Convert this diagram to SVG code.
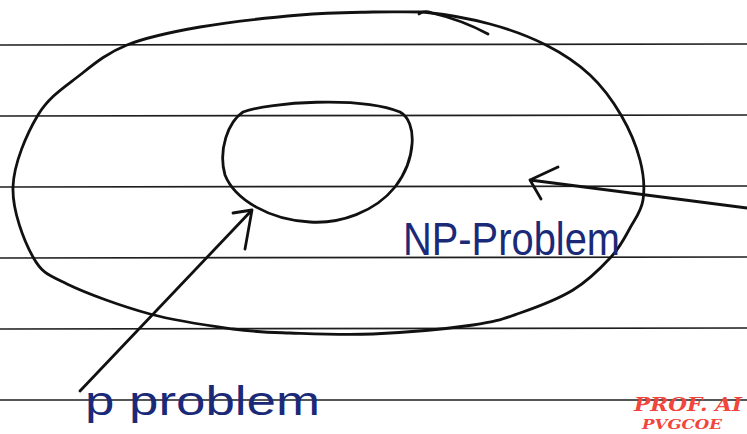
<svg xmlns="http://www.w3.org/2000/svg" width="747" height="434" viewBox="0 0 747 434">
<style>
.rule{stroke:#1e1e1e;stroke-width:1.7;fill:none}
.ink{stroke:#111;stroke-width:2.8;fill:none;stroke-linecap:round;stroke-linejoin:round}
.hand{font-family:"Liberation Sans","DejaVu Sans",sans-serif;fill:#1b2a78}
.stamp{font-family:"DejaVu Serif","Liberation Serif",serif;font-weight:bold;font-style:italic;fill:#f2453c}
</style>
<rect width="747" height="434" fill="#fff"/>
<g id="paper">
<line class="rule" x1="0" y1="45" x2="747" y2="44"/>
<line class="rule" x1="0" y1="116" x2="747" y2="115"/>
<line class="rule" x1="0" y1="187" x2="747" y2="186"/>
<line class="rule" x1="0" y1="258" x2="747" y2="257"/>
<line class="rule" x1="0" y1="329" x2="747" y2="328"/>
<line class="rule" x1="0" y1="400" x2="747" y2="400"/>
</g>
<g id="np-set">
<path class="ink" d="M423 12 C442.5 14,469.5 18.5,490 24 C510.5 29.5,529.3 36.5,546 45 C562.7 53.5,577.5 63.3,590 75 C602.5 86.7,612.7 100.8,621 115 C629.3 129.2,636.3 145.8,640 160 C643.7 174.2,644.7 188.7,643 200 C641.3 211.3,635.3 218.5,630 228 C624.7 237.5,620.5 246.7,611 257 C601.5 267.3,588.2 280.7,573 290 C557.8 299.3,536.7 307.2,520 313 C503.3 318.8,497.5 321.5,473 325 C448.5 328.5,403.5 332.7,373 334 C342.5 335.3,313.3 333.8,290 333 C266.7 332.2,256.3 332.2,233 329 C209.7 325.8,177.7 321.5,150 314 C122.3 306.5,86.5 293.5,67 284 C47.5 274.5,42 273.2,33 257 C24 240.8,12.2 210.7,13 187 C13.8 163.3,26.8 133.7,38 115 C49.2 96.3,65.2 86.7,80 75 C94.8 63.3,107 53,127 45 C147 37,171.2 32,200 27 C228.8 22,271.2 17.5,300 15 C328.8 12.5,352.5 12.5,373 12 C393.5 11.5,403.5 12,423 12 Z"/>
<path class="ink" d="M419 14 Q424 10 432 13 Q462 20 488 34"/>
</g>
<g id="p-set">
<path class="ink" d="M243 112 C270 102,360 96,400 112 C418 122,416 160,395 187 C375 212,340 224,310 222 C270 220,235 200,225 175 C218 150,228 122,243 112 Z"/>
</g>
<g id="connectors">
<path class="ink" d="M80 391 L252 210 M233 213 L252 210 L245 249"/>
<path class="ink" d="M747 208 L530 180 M558 167 L530 180 L541 199"/>
</g>
<g id="label-np">
<text class="hand" x="403" y="255" font-size="46" textLength="217" lengthAdjust="spacingAndGlyphs">NP-Problem</text>
</g>
<g id="label-p">
<text class="hand" x="85" y="415" font-size="40" textLength="235" lengthAdjust="spacingAndGlyphs">p problem</text>
</g>
<g id="stamp">
<text class="stamp" x="634" y="411" font-size="19" textLength="108" lengthAdjust="spacingAndGlyphs">PROF. AI</text>
<text class="stamp" x="642" y="429" font-size="13" textLength="80" lengthAdjust="spacingAndGlyphs">PVGCOE</text>
</g>
</svg>
